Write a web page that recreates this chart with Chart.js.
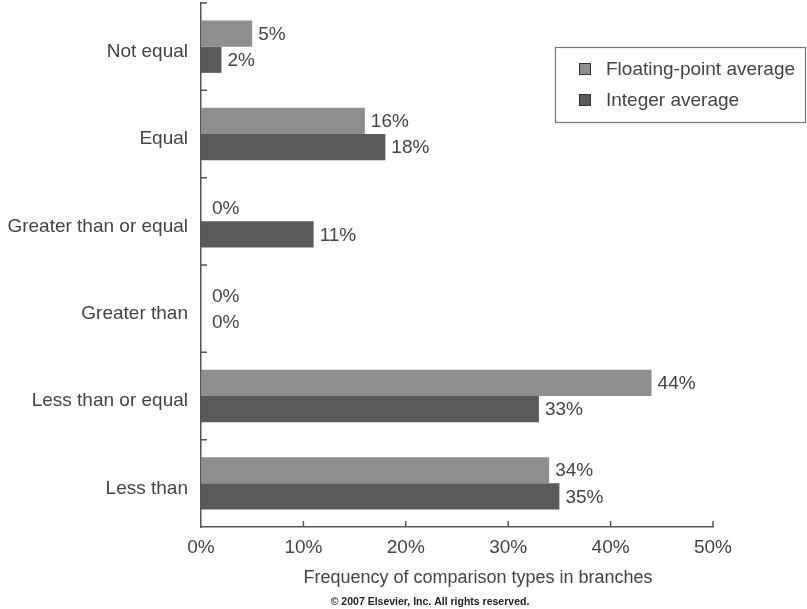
<!DOCTYPE html>
<html>
<head>
<meta charset="utf-8">
<script src="https://cdn.jsdelivr.net/npm/chart.js@4.4.0/dist/chart.umd.min.js"></script>
<style>
  html, body { margin: 0; padding: 0; background: #fff; }
  #wrap { width: 807px; height: 609px; }
</style>
</head>
<body>
<div id="wrap"><canvas id="chart" width="807" height="609"></canvas></div>
<script>
const categories = ['Not equal', 'Equal', 'Greater than or equal', 'Greater than', 'Less than or equal', 'Less than'];
const floatingPoint = [5, 16, 0, 0, 44, 34];
const integerAvg = [2, 18, 11, 0, 33, 35];
const xTicks = [0, 10, 20, 30, 40, 50];

const FONT = '"Liberation Sans", Arial, Helvetica, sans-serif';
const TEXT = '#444';
const AXIS = '#555';

// value labels just past the end of each bar
const barLabels = {
  id: 'barLabels',
  afterDatasetsDraw(chart) {
    const ctx = chart.ctx;
    const left = chart.chartArea.left;
    ctx.save();
    ctx.font = '19px ' + FONT;
    ctx.fillStyle = TEXT;
    ctx.textBaseline = 'middle';
    ctx.textAlign = 'left';
    chart.data.datasets.forEach((ds, i) => {
      chart.getDatasetMeta(i).data.forEach((bar, j) => {
        const x = Math.max(bar.x, left + 5) + 6;
        ctx.fillText(ds.data[j] + '%', x, bar.y + 1);
      });
    });
    ctx.restore();
  }
};

// short inward tick marks, axis title, legend box and footer line
const extras = {
  id: 'extras',
  afterDraw(chart) {
    const ctx = chart.ctx;
    const { left, right, top, bottom } = chart.chartArea;
    const xs = chart.scales.x, ys = chart.scales.y;
    ctx.save();
    ctx.strokeStyle = AXIS;
    ctx.lineWidth = 1.5;
    ctx.beginPath();
    xTicks.forEach(v => {
      if (v === 0) return;
      const px = xs.getPixelForValue(v);
      ctx.moveTo(px, bottom);
      ctx.lineTo(px, bottom - 6);
    });
    for (let i = 0; i < categories.length; i++) {
      const py = ys.getPixelForValue(i - 0.5);
      ctx.moveTo(left, py);
      ctx.lineTo(left + 6, py);
    }
    ctx.stroke();

    ctx.fillStyle = TEXT;
    ctx.textAlign = 'center';
    ctx.textBaseline = 'middle';
    ctx.font = '18px ' + FONT;
    ctx.fillText('Frequency of comparison types in branches', left + (right - left) / 2 + 21, 578);

    ctx.font = 'bold 10.5px "Liberation Sans Narrow", ' + FONT;
    ctx.fillStyle = '#222';
    ctx.fillText('\u00A9 2007 Elsevier, Inc. All rights reserved.', 430, 602);

    // legend
    const box = { x: 555, y: 47, w: 250, h: 75 };
    ctx.strokeStyle = '#777';
    ctx.lineWidth = 1.2;
    ctx.strokeRect(box.x + 0.5, box.y + 0.5, box.w, box.h);
    ctx.font = '19px ' + FONT;
    ctx.textAlign = 'left';
    chart.data.datasets.forEach((ds, i) => {
      const cy = box.y + 22 + i * 31;
      ctx.fillStyle = ds.backgroundColor;
      ctx.fillRect(box.x + 24, cy - 6, 12, 12);
      ctx.strokeStyle = '#333';
      ctx.lineWidth = 1;
      ctx.strokeRect(box.x + 24.5, cy - 5.5, 11, 11);
      ctx.fillStyle = TEXT;
      ctx.fillText(ds.label, box.x + 51, cy + 1);
    });
    ctx.restore();
  }
};

new Chart(document.getElementById('chart'), {
  type: 'bar',
  data: {
    labels: categories,
    datasets: [
      { label: 'Floating-point average', data: floatingPoint, backgroundColor: '#8e8e8e' },
      { label: 'Integer average', data: integerAvg, backgroundColor: '#5a5a5a' }
    ]
  },
  options: {
    indexAxis: 'y',
    responsive: false,
    animation: false,
    categoryPercentage: 0.6,
    barPercentage: 1.0,
    layout: { padding: { top: 3, right: 94, bottom: 0, left: 0 } },
    plugins: {
      legend: { display: false },
      tooltip: { enabled: false }
    },
    scales: {
      x: {
        min: 0,
        max: 50,
        afterBuildTicks: s => { s.ticks = xTicks.map(v => ({ value: v })); },
        afterFit: s => { s.height = 82; s.paddingLeft = 0; s.paddingRight = 0; },
        grid: { display: false, drawTicks: false },
        border: { display: true, color: AXIS, width: 1.5 },
        ticks: {
          padding: 9,
          color: TEXT,
          font: { family: FONT, size: 19 },
          callback: v => v + '%'
        }
      },
      y: {
        afterFit: s => { s.width = 201; s.paddingTop = 0; s.paddingBottom = 0; },
        grid: { display: false, drawTicks: false, offset: true },
        border: { display: true, color: AXIS, width: 1.5 },
        ticks: {
          padding: 13,
          labelOffset: 5,
          color: TEXT,
          font: { family: FONT, size: 19 }
        }
      }
    }
  },
  plugins: [barLabels, extras]
});
</script>
</body>
</html>
